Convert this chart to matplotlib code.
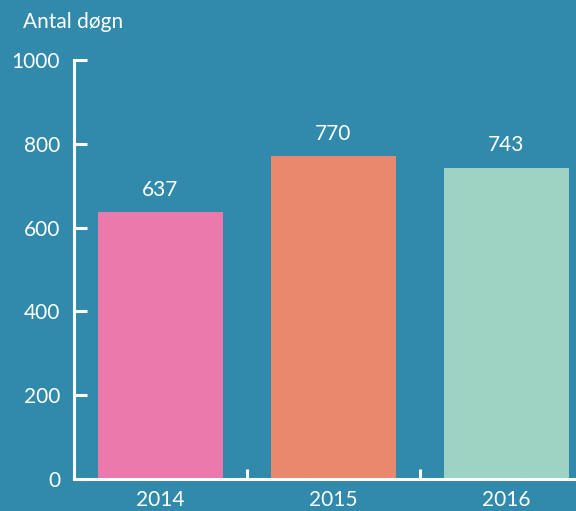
import matplotlib
matplotlib.use('Agg')
import matplotlib.pyplot as plt

years = ['2014', '2015', '2016']
days = [637, 770, 743]
colors = ['#EC79AB', '#EA886E', '#9ED3C3']
bg = '#318AAB'

plt.rcParams['font.family'] = ['Lato', 'DejaVu Sans']

fig = plt.figure(figsize=(5.76, 5.11), dpi=100, facecolor=bg)
ax = fig.add_axes([0.1285, 0.0626, 0.901, 0.820], facecolor=bg)

x = range(len(years))
bars = ax.bar(x, days, width=0.72, color=colors, zorder=1)
for xi, v in zip(x, days):
    ax.annotate(str(v), (xi, v), xytext=(0, 9), textcoords='offset points',
                ha='center', va='bottom', color='white', fontsize=15)

ax.set_xlim(-0.5, 2.5)
ax.set_ylim(0, 1000)
ax.set_yticks([0, 200, 400, 600, 800, 1000])
ax.set_xticks(list(x))
ax.set_xticklabels(years)
ax.set_xticks([0.5, 1.5], minor=True)

for side in ['top', 'right']:
    ax.spines[side].set_visible(False)
for side in ['left', 'bottom']:
    ax.spines[side].set_color('white')
    ax.spines[side].set_linewidth(2.2)
    ax.spines[side].set_zorder(3)

ax.tick_params(axis='y', direction='in', length=9, width=2.2, color='white',
               labelcolor='white', labelsize=15, pad=10)
ax.tick_params(axis='x', which='major', length=0, labelcolor='white',
               labelsize=15, pad=8)
ax.tick_params(axis='x', which='minor', direction='in', length=7, width=2.2,
               color='white')

fig.text(23 / 576, 1 - 28 / 511, 'Antal døgn', color='white', fontsize=15,
         ha='left', va='baseline')

fig.savefig('out.png', dpi=100, facecolor=bg)
